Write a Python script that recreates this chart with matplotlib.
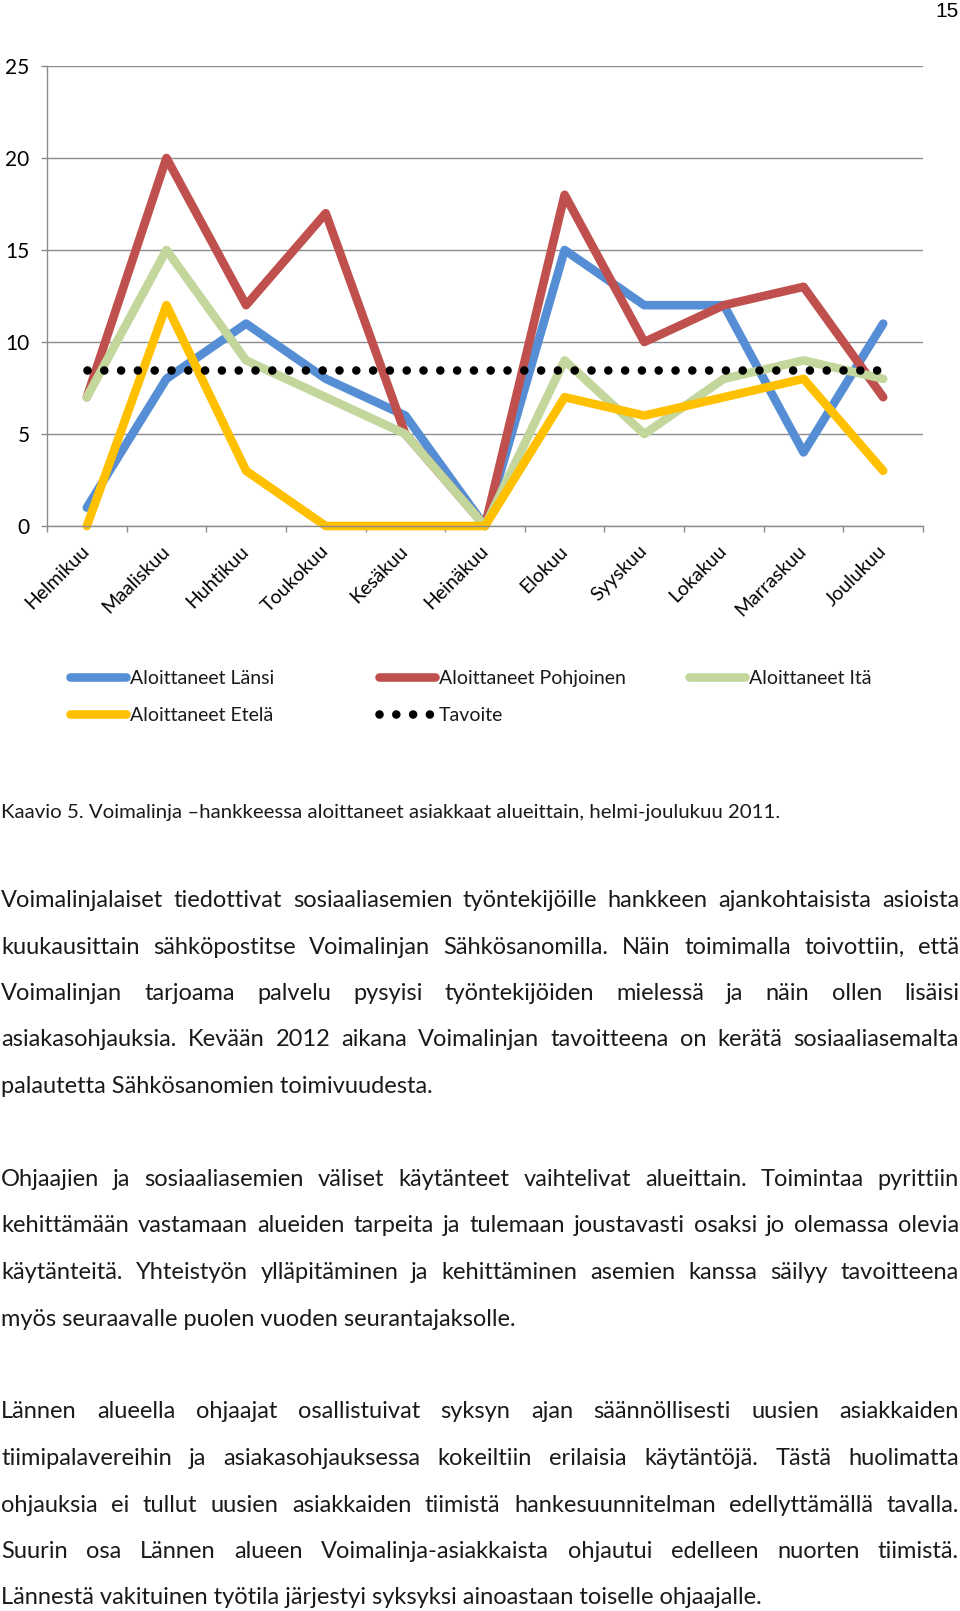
import numpy as np
import matplotlib
matplotlib.use('Agg')
import matplotlib.pyplot as plt

W, H = 960, 1611

months = ['Helmikuu', 'Maaliskuu', 'Huhtikuu', 'Toukokuu', 'Kesäkuu', 'Heinäkuu',
          'Elokuu', 'Syyskuu', 'Lokakuu', 'Marraskuu', 'Joulukuu']
lansi = [1, 8, 11, 8, 6, 0, 15, 12, 12, 4, 11]
pohjoinen = [7, 20, 12, 17, 5, 0, 18, 10, 12, 13, 7]
ita = [7, 15, 9, 7, 5, 0, 9, 5, 8, 9, 8]
etela = [0, 12, 3, 0, 0, 0, 7, 6, 7, 8, 3]
tavoite = [8.5, 8.5, 8.5, 8.5, 8.5, 8.5, 8.5, 8.5, 8.5, 8.5, 8.5]
y_ticks = [0, 5, 10, 15, 20, 25]

caption = 'Kaavio 5. Voimalinja –hankkeessa aloittaneet asiakkaat alueittain, helmi-joulukuu 2011.'
paragraphs = [
    ['Voimalinjalaiset tiedottivat sosiaaliasemien työntekijöille hankkeen ajankohtaisista asioista',
     'kuukausittain sähköpostitse Voimalinjan Sähkösanomilla. Näin toimimalla toivottiin, että',
     'Voimalinjan tarjoama palvelu pysyisi työntekijöiden mielessä ja näin ollen lisäisi',
     'asiakasohjauksia. Kevään 2012 aikana Voimalinjan tavoitteena on kerätä sosiaaliasemalta',
     'palautetta Sähkösanomien toimivuudesta.'],
    ['Ohjaajien ja sosiaaliasemien väliset käytänteet vaihtelivat alueittain. Toimintaa pyrittiin',
     'kehittämään vastamaan alueiden tarpeita ja tulemaan joustavasti osaksi jo olemassa olevia',
     'käytänteitä. Yhteistyön ylläpitäminen ja kehittäminen asemien kanssa säilyy tavoitteena',
     'myös seuraavalle puolen vuoden seurantajaksolle.'],
    ['Lännen alueella ohjaajat osallistuivat syksyn ajan säännöllisesti uusien asiakkaiden',
     'tiimipalavereihin ja asiakasohjauksessa kokeiltiin erilaisia käytäntöjä. Tästä huolimatta',
     'ohjauksia ei tullut uusien asiakkaiden tiimistä hankesuunnitelman edellyttämällä tavalla.',
     'Suurin osa Lännen alueen Voimalinja-asiakkaista ohjautui edelleen nuorten tiimistä.',
     'Lännestä vakituinen työtila järjestyi syksyksi ainoastaan toiselle ohjaajalle.'],
]

plt.rcParams['font.family'] = ['Lato', 'DejaVu Sans']
TXT = '#1a1a1a'
GRID = '#8c8c8c'

fig = plt.figure(figsize=(W / 100, H / 100), dpi=100)
ax = fig.add_axes([47 / W, 1 - 526 / H, 876 / W, 460 / H])

x = np.arange(len(months))
lw = 6.2
series = [(lansi, '#558ED5', 'Aloittaneet Länsi'),
          (pohjoinen, '#C0504D', 'Aloittaneet Pohjoinen'),
          (ita, '#C3D69B', 'Aloittaneet Itä'),
          (etela, '#FFC000', 'Aloittaneet Etelä')]
handles = []
for vals, col, name in series:
    h, = ax.plot(x, vals, color=col, lw=lw, solid_capstyle='round',
                 solid_joinstyle='round', clip_on=False, label=name)
    handles.append(h)
h, = ax.plot(x, tavoite, color='black', lw=lw, linestyle=(0, (0.001, 1.95)),
             dash_capstyle='round', clip_on=False, label='Tavoite')
handles.append(h)

ax.set_xlim(-0.5, len(months) - 0.5)
ax.set_ylim(0, 25)
ax.set_yticks(y_ticks)
ax.set_xticks(x)
ax.set_xticklabels(months, rotation=45, ha='right', va='center',
                   rotation_mode='anchor', fontsize=14, color='black')
ax.set_xticks(np.arange(-0.5, len(months), 1), minor=True)
ax.tick_params(axis='x', which='major', length=0, pad=16)
ax.tick_params(axis='x', which='minor', length=4.5, width=1, color=GRID, direction='out')
ax.tick_params(axis='y', length=4.5, width=1, color=GRID, labelsize=15,
               labelcolor='black', pad=8)
ax.grid(axis='y', color=GRID, lw=1)
ax.set_axisbelow(True)
for s in ['top', 'right']:
    ax.spines[s].set_visible(False)
for s in ['left', 'bottom']:
    ax.spines[s].set_color(GRID)
    ax.spines[s].set_linewidth(1)

# legend: three columns laid out like the Excel legend
cols = [[handles[0], handles[3]], [handles[1], handles[4]], [handles[2]]]
col_x = [60, 369, 679]
for hs, cx in zip(cols, col_x):
    fig.legend(handles=hs, loc='upper left', bbox_to_anchor=(cx / W, 1 - 660 / H),
               frameon=False, fontsize=14, handlelength=2.9, handletextpad=0.18,
               labelspacing=1.05, borderpad=0, labelcolor=TXT)

# page number
fig.text(959 / W, 1 - 2 / H, '15', ha='right', va='top', fontsize=15,
         family='Liberation Sans', color='black')

fig.text(1 / W, 1 - 818 / H, caption, ha='left', va='baseline', fontsize=14.7, color=TXT)

renderer = fig.canvas.get_renderer()
BODY = 17.0
x0, x1 = 1, 959


def put_line(line, y, justify):
    if not justify:
        fig.text(x0 / W, 1 - y / H, line, ha='left', va='baseline', fontsize=BODY, color=TXT)
        return
    words = line.split(' ')
    widths = []
    for w in words:
        t = fig.text(0, 0, w, fontsize=BODY)
        widths.append(t.get_window_extent(renderer).width)
        t.remove()
    gap = (x1 - x0 - sum(widths)) / (len(words) - 1)
    xx = x0
    for w, wd in zip(words, widths):
        fig.text(xx / W, 1 - y / H, w, ha='left', va='baseline', fontsize=BODY, color=TXT)
        xx += wd + gap


k = 0
for para in paragraphs:
    for i, line in enumerate(para):
        put_line(line, 907 + 46.5 * k, i < len(para) - 1)
        k += 1
    k += 1

fig.savefig('out.png', dpi=100)
